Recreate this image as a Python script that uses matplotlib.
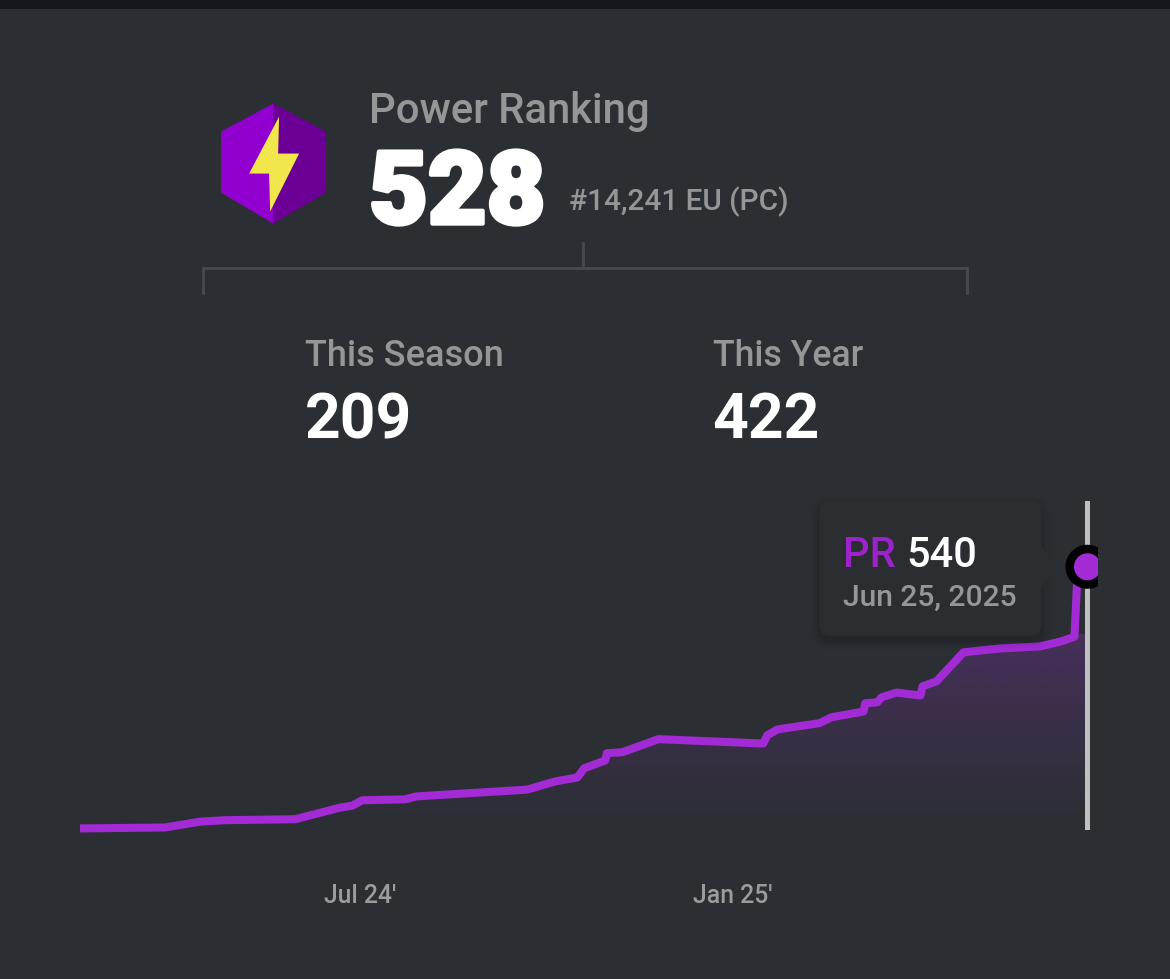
import numpy as np
import matplotlib
matplotlib.use('Agg')
import matplotlib.pyplot as plt
import matplotlib.patheffects as pe
from matplotlib.patches import Polygon, FancyBboxPatch, Circle, Rectangle

plt.rcParams['font.family'] = ['Roboto', 'DejaVu Sans']

# -------------------------
# Data (days relative to 1 Jan 2025, power ranking)
# -------------------------
days = [-322.8, -280.7, -263.4, -251, -216.3, -194, -188, -183.2, -161.9, -156.4,
        -101.5, -87.6, -76.7, -73.3, -62.9, -62.1, -54.5, -36.6, 15.3, 17.3,
        22.3, 43.1, 49, 64.9, 65.8, 71.8, 73.8, 81.2, 93.1, 94.1,
        101, 114.4, 132.7, 152, 162.4, 169.3, 170.8, 175]
pr = [1, 3, 15, 18, 20, 44, 48, 59, 61, 67,
      81, 98, 106, 125, 141, 156, 158, 185, 176, 193,
      205, 218, 230, 242, 259, 261, 271, 281, 275, 294,
      304, 364, 372, 376, 386, 396, 524, 540]
tick_days = [-184, 0]
tick_labels = ["Jul 24'", "Jan 25'"]

BG = '#2b2e33'
PURPLE = '#a32bd6'
GREY = '#969696'

W, H = 1170, 979
PX_DAY = 2.02     # pixels per day
PX_PR = 0.485     # pixels per PR point
X0, Y0 = 732, 829 # pixel position of day 0 / PR 0

fig = plt.figure(figsize=((W + 0.5) / 100, (H + 0.5) / 100), dpi=100, facecolor=BG)

# -------------------------
# Chart
# -------------------------
ax = fig.add_axes([0, 0, 1, 1])
ax.set_facecolor(BG)
ax.axis('off')

# gradient under the line
grad = np.zeros((256, 2, 4))
grad[..., 0] = 0.53
grad[..., 1] = 0.20
grad[..., 2] = 0.72
grad[..., 3] = np.linspace(0.0, 0.3, 256)[:, None]
im = ax.imshow(grad, origin='lower', aspect='auto', zorder=1,
               extent=(days[0], days[-1], 0, 400), interpolation='bilinear')
poly = Polygon(np.column_stack([days + [days[-1], days[0]], pr + [0, 0]]),
               transform=ax.transData, fc='none', ec='none')
ax.add_patch(poly)
im.set_clip_path(poly)
ax.set_xlim((0 - X0) / PX_DAY, (W - X0) / PX_DAY)
ax.set_ylim((Y0 - H) / PX_PR, Y0 / PX_PR)

ax.plot(days, pr, color=PURPLE, lw=5.8, solid_joinstyle='round', solid_capstyle='butt', zorder=3)

for d, lab in zip(tick_days, tick_labels):
    ax.text(d, (Y0 - 903) / PX_PR, lab, color='#9c9c9c', fontsize=17.8, fontweight='medium',
            ha='center', va='baseline')

# -------------------------
# Decoration, in pixels
# -------------------------
ov = fig.add_axes([0, 0, 1, 1], facecolor='none')
ov.set_xlim(0, W)
ov.set_ylim(H, 0)
ov.axis('off')

ov.add_patch(Rectangle((0, 0), W, 9, fc='#16171c', ec='none'))

# cursor and marker
ov.add_patch(Rectangle((1084.5, 501), 5, 329, fc='#c9c9c9', ec='none', alpha=0.95, zorder=2))
clip = Rectangle((1040, 530), 58, 80, transform=ov.transData)
for r, c in [(22, 'black'), (13.5, PURPLE)]:
    m = Circle((1087, 567), r, fc=c, ec='none', zorder=4)
    ov.add_patch(m)
    m.set_clip_path(clip)

# tooltip with soft shadow
for grow, a in [(10, 0.02), (7, 0.03), (4, 0.04), (2, 0.05)]:
    ov.add_patch(FancyBboxPatch((819 - grow, 501 - grow + 5), 222 + 2 * grow, 135 + 2 * grow,
                                boxstyle='round,pad=0,rounding_size=%d' % (12 + grow),
                                fc='black', ec='none', alpha=a, zorder=5))
ov.add_patch(FancyBboxPatch((819, 501), 222, 135, boxstyle='round,pad=0,rounding_size=12',
                            fc='#2b2d31', ec='none', zorder=6))
ov.add_patch(Polygon([(1040, 546), (1059, 567), (1040, 588)], fc='#2b2d31', ec='none', zorder=6))
ov.text(843, 567, 'PR', color='#9c22c9', fontsize=30, fontweight='medium', zorder=7)
ov.text(906, 567, '540', color='white', fontsize=30, fontweight='medium', zorder=7)
ov.text(843, 606, 'Jun 25, 2025', color=GREY, fontsize=21.6, fontweight='medium', zorder=7)

# hexagon badge
ov.add_patch(Polygon([(273, 104), (221, 132), (221, 193), (273, 224)], fc='#9100cf', ec='none'))
ov.add_patch(Polygon([(273, 104), (326, 132), (326, 193), (273, 224)], fc='#6c0096', ec='none'))
ov.add_patch(Polygon([(279, 117), (249, 174), (269, 174), (270, 212), (299, 154), (278, 154)],
                     fc='#f2e64d', ec='none', zorder=3))

# header texts
ov.text(369, 123, 'Power Ranking', color=GREY, fontsize=30.2, fontweight='medium')
ov.text(369, 224, '528', color='white', fontsize=73, fontweight='black',
        path_effects=[pe.withStroke(linewidth=3, foreground='white')])
ov.text(569, 210, '#14,241 EU (PC)', color=GREY, fontsize=21.4, fontweight='medium')

# bracket
ov.plot([203, 203, 967, 967], [293, 268, 268, 293], color='#47494e', lw=2, solid_joinstyle='miter')
ov.plot([583, 583], [243, 268], color='#47494e', lw=2)

ov.text(305, 366, 'This Season', color=GREY, fontsize=26, fontweight='medium')
ov.text(713, 366, 'This Year', color=GREY, fontsize=25.7, fontweight='medium')
ov.text(305, 438, '209', color='white', fontsize=45, fontweight='bold')
ov.text(712, 438, '422', color='white', fontsize=45, fontweight='bold')

fig.savefig('out.png', dpi=100, facecolor=BG)
